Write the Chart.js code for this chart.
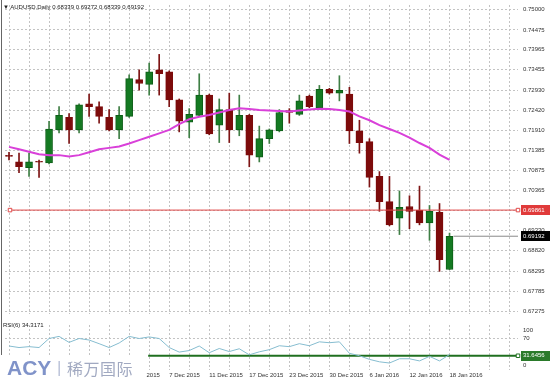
<!DOCTYPE html>
<html>
<head>
<meta charset="utf-8">
<title>AUDUSD Daily</title>
<script src="https://cdn.jsdelivr.net/npm/chart.js@4.4.1/dist/chart.umd.min.js"></script>
<style>
  html, body { margin: 0; padding: 0; background: #fff; }
  #wrap { position: relative; width: 550px; height: 383px; overflow: hidden; font-family: "Liberation Sans", Arial, sans-serif; }
  canvas { position: absolute; left: 0; }
  #main { top: 0; }
  #sub { top: 320px; }
  #edge { position: absolute; left: 1px; top: 0; width: 1px; height: 383px; background: #666; }
  #head, #rsiName { position: absolute; left: 3px; font-size: 6px; line-height: 8px; color: #222; white-space: nowrap; }
  #head { top: 3px; }
  #rsiName { top: 321px; }
  #logo { position: absolute; left: 0; top: 355px; width: 145px; height: 28px; background: #fff; white-space: nowrap; }
  #logo span { position: absolute; }
  .acy { left: 7px; top: 1px; font: bold 21px/24px "Liberation Sans", Arial, sans-serif; color: #8093c9; }
  .sep { left: 57px; top: 3px; font: 17px/20px "Liberation Sans", Arial, sans-serif; color: #b9c0d8; }
  .cn { left: 67px; top: 5px; font: 16px/16px "Noto Sans CJK SC", sans-serif; color: #a1a9c1; letter-spacing: 0.5px; }
</style>
</head>
<body>
<div id="wrap">
  <canvas id="main" width="550" height="319"></canvas>
  <canvas id="sub" width="550" height="63"></canvas>
  <div id="edge"></div>
  <div id="head"></div>
  <div id="rsiName"></div>
  <div id="logo"><span class="acy">ACY</span><span class="sep">|</span><span class="cn">稀万国际</span></div>
</div>
<script>
var symbol = 'AUDUSD,Daily';

var dates = ['13 Nov 2015', '16 Nov 2015', '17 Nov 2015', '18 Nov 2015', '19 Nov 2015', '20 Nov 2015',
    '23 Nov 2015', '24 Nov 2015', '25 Nov 2015', '26 Nov 2015', '27 Nov 2015', '30 Nov 2015',
    '1 Dec 2015', '2 Dec 2015', '3 Dec 2015', '4 Dec 2015', '7 Dec 2015', '8 Dec 2015',
    '9 Dec 2015', '10 Dec 2015', '11 Dec 2015', '14 Dec 2015', '15 Dec 2015', '16 Dec 2015',
    '17 Dec 2015', '18 Dec 2015', '21 Dec 2015', '22 Dec 2015', '23 Dec 2015', '24 Dec 2015',
    '28 Dec 2015', '29 Dec 2015', '30 Dec 2015', '31 Dec 2015', '4 Jan 2016', '5 Jan 2016',
    '6 Jan 2016', '7 Jan 2016', '8 Jan 2016', '11 Jan 2016', '12 Jan 2016', '13 Jan 2016',
    '14 Jan 2016', '15 Jan 2016', '18 Jan 2016'];

var opens = [0.71250, 0.71094, 0.70946, 0.71094, 0.71070, 0.71913, 0.72235, 0.71913, 0.72582,
    0.72508, 0.72235, 0.71913, 0.72260, 0.73202, 0.73078, 0.73450, 0.73400, 0.72682, 0.72111,
    0.72285, 0.72805, 0.72037, 0.72434, 0.71913, 0.72285, 0.71218, 0.71690, 0.71888, 0.72409,
    0.72310, 0.72781, 0.72483, 0.72954, 0.72855, 0.72830, 0.71888, 0.71615, 0.70723, 0.70078,
    0.69656, 0.69954, 0.69855, 0.69532, 0.69805, 0.68339];
var highs = [0.71342, 0.71318, 0.71318, 0.71143, 0.72136, 0.72508, 0.72334, 0.72582, 0.72830,
    0.72632, 0.72434, 0.72508, 0.73326, 0.73450, 0.73624, 0.73847, 0.73425, 0.72706, 0.72458,
    0.73351, 0.72830, 0.72706, 0.72855, 0.72805, 0.72310, 0.72012, 0.71938, 0.72434, 0.72458,
    0.72805, 0.72805, 0.73053, 0.72979, 0.73301, 0.73004, 0.72161, 0.71690, 0.70847, 0.70723,
    0.70351, 0.70227, 0.70475, 0.69979, 0.70029, 0.69272];
var lows = [0.71143, 0.70822, 0.70723, 0.70698, 0.71045, 0.71838, 0.71566, 0.71838, 0.72260,
    0.72086, 0.71888, 0.71690, 0.72235, 0.72930, 0.72805, 0.72805, 0.72508, 0.71863, 0.71714,
    0.72260, 0.71789, 0.71590, 0.71590, 0.71764, 0.70970, 0.71094, 0.71566, 0.71863, 0.72086,
    0.72285, 0.72483, 0.72458, 0.72830, 0.72657, 0.71566, 0.71318, 0.70450, 0.69830, 0.69458,
    0.69234, 0.69384, 0.69483, 0.69086, 0.68292, 0.68339];
var closes = [0.71236, 0.70970, 0.71094, 0.71085, 0.71938, 0.72285, 0.71913, 0.72558, 0.72508,
    0.72260, 0.71913, 0.72285, 0.73227, 0.73103, 0.73400, 0.73351, 0.72682, 0.72136, 0.72310,
    0.72805, 0.71814, 0.72434, 0.71913, 0.72285, 0.71268, 0.71690, 0.71913, 0.72359, 0.72359,
    0.72657, 0.72508, 0.72954, 0.72855, 0.72930, 0.71888, 0.71590, 0.70698, 0.70078, 0.69483,
    0.69929, 0.69830, 0.69532, 0.69830, 0.68590, 0.69192];

var ma = [0.71479, 0.71417, 0.71355, 0.71293, 0.71268, 0.71268, 0.71231, 0.71268, 0.71342,
    0.71417, 0.71454, 0.71491, 0.71566, 0.71653, 0.71739, 0.71826, 0.71913, 0.72062, 0.72186,
    0.72248, 0.72297, 0.72359, 0.72421, 0.72466, 0.72446, 0.72421, 0.72409, 0.72396, 0.72384,
    0.72409, 0.72434, 0.72458, 0.72446, 0.72421, 0.72384, 0.72260, 0.72161, 0.72037, 0.71938,
    0.71839, 0.71715, 0.71578, 0.71454, 0.71280, 0.71144];

var rsi = [53.3, 49.9, 51.9, 49.9, 70.0, 74.7, 61.4, 70.0, 66.6, 58.5, 49.9, 60.0, 74.7, 70.0,
    73.5, 70.0, 49.9, 39.8, 43.2, 53.3, 38.4, 47.8, 41.0, 47.2, 33.7, 40.4, 45.2, 53.9, 51.9,
    58.5, 53.9, 62.6, 60.6, 62.6, 37.1, 31.7, 23.6, 18.2, 15.5, 25.0, 25.0, 20.2, 30.3, 20.2,
    34.3171];

var priceTicks = [0.75000, 0.74475, 0.73965, 0.73455, 0.72930, 0.72420, 0.71910, 0.71385,
    0.70875, 0.70365, 0.69855, 0.69330, 0.68820, 0.68295, 0.67785, 0.67275];
var rsiTicks = [100, 70, 0];

// horizontal objects drawn on the chart: level and the bar range they span
var levelPrice = 0.69861;
var levelBars = [0.1, 50.84];
var rsiLevel = 31.6456;
var rsiLevelBars = [13.9, 50.84];

var X_MIN = -0.4, X_MAX = 50.84;
var Y_MIN = 0.672007, Y_MAX = 0.751116;
var gridColor = '#c3c3c3';
var labelFont = { family: 'Liberation Sans', size: 6 };
var bull = '#147a22', bullEdge = '#0d5e17', bear = '#7d0b0b';

var last = opens.length - 1;
document.getElementById('head').textContent = '\u25BC ' + symbol + ' ' +
    [opens[last], highs[last], lows[last], closes[last]].map(function (v) { return v.toFixed(5); }).join(' ');
document.getElementById('rsiName').textContent = 'RSI(6) ' + rsi[last].toFixed(4);

var bodies = [], wicks = [], maPoints = [], rsiPoints = [];
var bodyColors = [], edgeColors = [], wickColors = [];
for (var i = 0; i < opens.length; i++) {
    var up = closes[i] >= opens[i];
    bodies.push({ x: i, y: [opens[i], closes[i]] });
    wicks.push({ x: i, y: [lows[i], highs[i]] });
    maPoints.push({ x: i, y: ma[i] });
    rsiPoints.push({ x: i, y: rsi[i] });
    bodyColors.push(up ? bull : bear);
    edgeColors.push(up ? bullEdge : bear);
    wickColors.push(up ? '#3f7f45' : '#7d1414');
}

function barGrid(scale) {
    scale.ticks = [];
    for (var v = 0; v <= 50; v += 2) {
        scale.ticks.push({ value: v });
    }
}

function tag(ctx, py, text, bg) {
    ctx.save();
    ctx.fillStyle = bg;
    ctx.fillRect(521, Math.round(py) - 5, 29, 10);
    ctx.fillStyle = '#fff';
    ctx.font = '6px "Liberation Sans"';
    ctx.textBaseline = 'middle';
    ctx.fillText(text, 523, py);
    ctx.restore();
}

var priceTags = {
    id: 'priceTags',
    afterDraw: function (chart) {
        var y = chart.scales.y;
        tag(chart.ctx, y.getPixelForValue(levelPrice), levelPrice.toFixed(5), '#e03a3a');
        tag(chart.ctx, y.getPixelForValue(closes[last]), closes[last].toFixed(5), '#000');
    }
};

var rsiTags = {
    id: 'rsiTags',
    afterDraw: function (chart) {
        var y = chart.scales.y;
        var ctx = chart.ctx;
        ctx.save();
        ctx.fillStyle = '#333';
        ctx.font = '6px "Liberation Sans"';
        ctx.textBaseline = 'middle';
        ctx.fillText('100', 523, y.getPixelForValue(100) + 5);
        ctx.fillText('0', 523, y.getPixelForValue(0) - 4.5);
        ctx.restore();
        tag(ctx, y.getPixelForValue(rsiLevel), rsiLevel.toFixed(4), '#2a7a2a');
    }
};

function xAxis(height, showLabels) {
    return {
        type: 'linear',
        min: X_MIN,
        max: X_MAX,
        offset: false,
        afterBuildTicks: barGrid,
        afterFit: function (s) { s.height = height; s.paddingLeft = 0; s.paddingRight = 0; },
        ticks: {
            display: showLabels,
            font: labelFont,
            color: '#333',
            align: 'start',
            padding: 2,
            maxRotation: 0,
            minRotation: 0,
            autoSkip: false,
            callback: function (v) { return (v % 4 === 0 && dates[v]) ? dates[v] : ''; }
        },
        grid: { color: gridColor, offset: false, drawTicks: false },
        border: { display: false, dash: [2, 2] }
    };
}

function fitRight(s) {
    s.width = 32;
    s.paddingTop = 0;
    s.paddingBottom = 0;
}

var common = {
    responsive: false,
    animation: false,
    events: [],
    layout: { padding: 0 },
    plugins: { legend: { display: false }, tooltip: { enabled: false } }
};

new Chart(document.getElementById('main'), {
    type: 'line',
    data: {
        datasets: [{
            type: 'bar',
            data: wicks,
            backgroundColor: wickColors,
            barThickness: 1,
            grouped: false,
            order: 3
        }, {
            type: 'bar',
            data: bodies,
            backgroundColor: bodyColors,
            borderColor: edgeColors,
            borderWidth: 1,
            borderSkipped: false,
            barThickness: 7,
            minBarLength: 1,
            grouped: false,
            order: 2
        }, {
            data: maPoints,
            borderColor: '#d940d9',
            borderWidth: 2,
            pointRadius: 0,
            order: 1
        }, {
            data: levelBars.map(function (b) { return { x: b, y: levelPrice }; }),
            borderColor: '#e04848',
            borderWidth: 1,
            pointStyle: 'rect',
            pointRadius: 2.5,
            pointBackgroundColor: '#fff',
            pointBorderColor: '#e04848',
            clip: false,
            order: 0
        }, {
            data: [{ x: last + 0.4, y: closes[last] }, { x: X_MAX, y: closes[last] }],
            borderColor: '#8a8a8a',
            borderWidth: 1,
            pointRadius: 0,
            order: 0
        }]
    },
    options: Object.assign({}, common, {
        scales: {
            x: xAxis(0, false),
            y: {
                position: 'right',
                min: Y_MIN,
                max: Y_MAX,
                afterBuildTicks: function (s) { s.ticks = priceTicks.map(function (v) { return { value: v }; }); },
                afterFit: fitRight,
                ticks: {
                    font: labelFont,
                    color: '#333',
                    padding: 5,
                    callback: function (v) { return v.toFixed(5); }
                },
                grid: { color: gridColor, drawTicks: false },
                border: { display: false, dash: [2, 2] }
            }
        }
    }),
    plugins: [priceTags]
});

new Chart(document.getElementById('sub'), {
    type: 'line',
    data: {
        datasets: [{
            data: rsiPoints,
            borderColor: '#86bdd0',
            borderWidth: 1,
            pointRadius: 0
        }, {
            data: rsiLevelBars.map(function (b) { return { x: b, y: rsiLevel }; }),
            borderColor: '#1f6f1f',
            borderWidth: 2,
            pointStyle: 'rect',
            pointRadius: [0, 2.5],
            pointBackgroundColor: '#fff',
            pointBorderColor: '#1f6f1f',
            pointBorderWidth: 1,
            clip: false
        }]
    },
    options: Object.assign({}, common, {
        scales: {
            x: xAxis(13, true),
            y: {
                position: 'right',
                min: 0,
                max: 100,
                afterBuildTicks: function (s) { s.ticks = rsiTicks.map(function (v) { return { value: v }; }); },
                afterFit: fitRight,
                ticks: {
                    font: labelFont,
                    color: '#333',
                    padding: 5,
                    callback: function (v) { return v === 70 ? '70' : ''; }
                },
                grid: {
                    color: function (c) { return c.tick && c.tick.value === 70 ? gridColor : 'rgba(0,0,0,0)'; },
                    drawTicks: false
                },
                border: { display: false, dash: [2, 2] }
            }
        }
    }),
    plugins: [rsiTags]
});
</script>
</body>
</html>
